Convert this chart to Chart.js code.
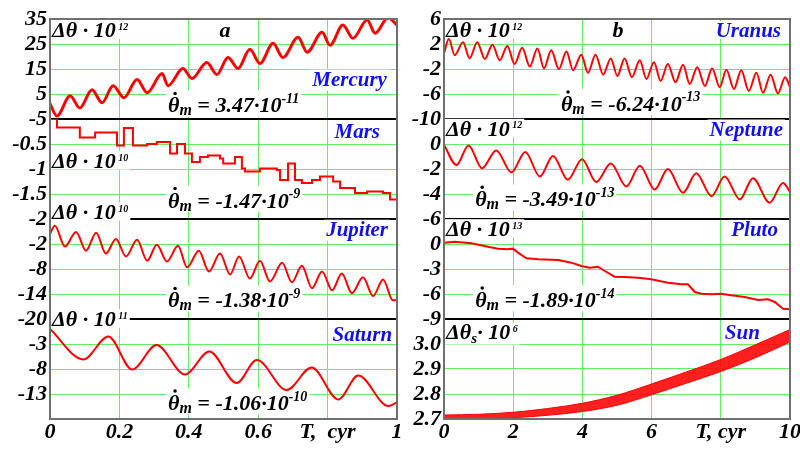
<!DOCTYPE html>
<html>
<head>
<meta charset="utf-8">
<script src="https://cdn.jsdelivr.net/npm/chart.js@4.4.1/dist/chart.umd.min.js"></script>
<style>
html, body { margin: 0; padding: 0; background: #fff; }
#wrap { position: relative; width: 800px; height: 449px; overflow: hidden; background: #fff; }
canvas { position: absolute; top: 0; }
#left { left: 0; }
#right { left: 400px; }
</style>
</head>
<body>
<div id="wrap">
<canvas id="left" width="420" height="449"></canvas>
<canvas id="right" width="400" height="449"></canvas>
</div>
<script>
// ---- data (T in centuries) ----
var mercuryT = [0, .020, .058, .086, .121, .150, .182, .213, .251, .280, .323, .340, .383, .409, .452, .481, .513, .542, .576, .605, .643, .671, .715, .741, .784, .807, .844, .873, .914, .937, .974, 1.0];
var mercuryV = [1.1, -3.8, 4.3, -0.6, 6.7, 1.5, 8.3, 3.5, 10.8, 5.5, 13.2, 8.3, 15.2, 11.2, 17.6, 12.8, 19.6, 15.2, 22.9, 17.2, 25.3, 19.6, 27.7, 21.7, 29.7, 24.5, 32.6, 27.3, 34.6, 29.3, 35.5, 32.6];

var marsT = [0, .020, .086, .130, .193, .213, .239, .280, .308, .346, .366, .389, .409, .432, .455, .490, .499, .533, .553, .562, .605, .654, .663, .686, .706, .726, .755, .778, .816, .836, .879, .914, .960, .980, 1.0];
var marsV = [0, -0.17, -0.37, -0.27, -0.53, -0.18, -0.53, -0.50, -0.46, -0.69, -0.50, -0.69, -0.86, -0.76, -0.73, -0.79, -0.89, -0.76, -0.99, -1.05, -0.99, -1.02, -1.22, -0.89, -1.22, -1.28, -1.22, -1.15, -1.25, -1.38, -1.48, -1.45, -1.48, -1.61, -1.67];

var jupiterT = [0, .014, .043, .075, .104, .133, .161, .190, .219, .251, .280, .308, .337, .369, .395, .429, .458, .490, .519, .545, .576, .605, .634, .669, .697, .726, .755, .784, .813, .841, .870, .902, .931, .960, .988, 1.0];
var jupiterV = [0.4, 2.4, -2.6, 0.9, -3.6, 0.7, -4.3, -0.8, -5.0, -1.0, -6.0, -2.2, -6.2, -2.4, -7.6, -3.6, -8.6, -4.3, -9.3, -5.0, -10.3, -6.0, -11.0, -6.5, -11.2, -7.2, -12.6, -8.6, -13.1, -9.1, -13.8, -10.0, -14.5, -10.5, -15.5, -15.5];

var saturnT = [0, .096, .168, .237, .307, .389, .459, .538, .596, .682, .754, .831, .888, .975, 1.0];
var saturnV = [0.0, -6.1, -1.5, -8.1, -3.2, -9.1, -4.5, -10.8, -6.2, -12.2, -7.7, -14.1, -9.3, -15.4, -14.7];

var uranusT = [0, .14, .31, .55, .74, .96, 1.18, 1.40, 1.61, 1.83, 2.04, 2.26, 2.48, 2.70, 2.89, 3.10, 3.32, 3.54, 3.73, 3.97, 4.16, 4.38, 4.60, 4.82, 5.01, 5.22, 5.43, 5.66, 5.85, 6.07, 6.26, 6.47, 6.69, 6.91, 7.10, 7.32, 7.54, 7.75, 7.97, 8.16, 8.38, 8.59, 8.81, 9.03, 9.22, 9.44, 9.65, 9.86, 10];
var uranusV = [0.5, 2.8, 0.2, 2.3, -0.3, 2.3, -0.4, 1.9, -0.6, 1.7, -1.2, 1.4, -1.6, 1.3, -1.9, 1.0, -2.0, 0.8, -2.2, 0.3, -2.6, 0.3, -2.9, -0.3, -3.1, -0.3, -3.3, -0.6, -3.6, -0.9, -3.9, -1.2, -4.1, -1.3, -4.4, -1.7, -4.7, -1.9, -4.9, -2.1, -5.2, -2.2, -5.5, -2.6, -5.8, -2.9, -5.9, -3.3, -4.9];

var neptuneT = [0, .36, .71, 1.10, 1.51, 1.95, 2.35, 2.77, 3.15, 3.58, 3.99, 4.40, 4.82, 5.27, 5.66, 6.09, 6.47, 6.91, 7.29, 7.73, 8.11, 8.55, 8.93, 9.41, 9.80, 10];
var neptuneV = [-0.06, -1.68, -0.12, -1.94, -0.51, -2.26, -0.64, -2.60, -0.96, -2.86, -1.21, -3.04, -1.55, -3.39, -1.74, -3.64, -2.00, -3.90, -2.34, -4.17, -2.60, -4.43, -2.73, -4.69, -3.12, -3.83];

var plutoT = [0, .31, .79, 1.27, 1.56, 1.85, 1.99, 2.14, 2.38, 2.72, 3.30, 3.68, 3.97, 4.21, 4.45, 4.65, 4.93, 5.22, 5.61, 5.99, 6.47, 6.86, 7.05, 7.25, 7.44, 7.73, 8.01, 8.30, 8.69, 9.08, 9.36, 9.56, 9.80, 10];
var plutoV = [0.16, 0.28, 0.08, -0.32, -0.56, -0.64, -0.56, -1.04, -1.72, -1.84, -1.92, -2.24, -2.64, -2.84, -2.72, -3.24, -3.92, -3.96, -4.04, -4.24, -4.64, -4.84, -4.84, -5.76, -5.96, -6.04, -5.96, -6.16, -6.36, -6.72, -6.64, -6.96, -7.76, -7.84];

var sunT = [0, 1, 2, 3, 4, 5, 6, 7, 8, 9, 10];
var sunLow = [2.700, 2.701, 2.705, 2.715, 2.730, 2.755, 2.797, 2.843, 2.890, 2.945, 3.008];
var sunHigh = [2.716, 2.719, 2.727, 2.742, 2.763, 2.795, 2.840, 2.888, 2.938, 2.997, 3.058];

// ---- styling ----
var serif = "'Liberation Serif', 'Times New Roman', serif";
var green = '#66ee66';
var red = '#ff0000';
var blue = '#1010f0';
var tickFont = { family: serif, size: 22, style: 'italic', weight: 'bold' };

Chart.defaults.font.family = serif;

function pts(t, v) {
    return t.map(function(x, i) { return { x: x, y: v[i] }; });
}

function fmt(v) {
    return String(Number(v.toFixed(2)));
}

function isEdge(c) {
    return c.index === 0 || c.index === c.scale.ticks.length - 1;
}

function yAxis(min, max, step, width, o) {
    o = o || {};
    return {
        type: 'linear', position: 'left', stack: 'col', stackWeight: 1,
        min: min, max: max, offset: false,
        border: { display: false },
        grid: {
            drawTicks: false,
            color: function(c) { return isEdge(c) ? '#000' : green; },
            lineWidth: function(c) { return isEdge(c) ? 2 : 1; }
        },
        ticks: {
            stepSize: step, autoSkip: false, padding: 3, color: '#000', font: tickFont,
            callback: function(v, i, t) {
                if (o.hideTop && i === t.length - 1) return '';
                if (o.hideBottom && i === 0) return '';
                return o.fixed ? v.toFixed(o.fixed) : fmt(v);
            }
        },
        afterFit: function(s) { s.width = width; s.paddingTop = 0; s.paddingBottom = 0; }
    };
}

function xAxis(max, step, unitAt, unitText) {
    return {
        type: 'linear', min: 0, max: max, offset: false,
        border: { display: false },
        grid: { drawTicks: false, color: green, lineWidth: 1 },
        ticks: {
            stepSize: step, autoSkip: false, maxRotation: 0, padding: 0, color: '#000', font: tickFont,
            callback: function(v) { return Math.abs(v - unitAt) < 1e-6 ? unitText : fmt(v); }
        },
        afterFit: function(s) { s.height = 30; s.paddingLeft = 0; s.paddingRight = 0; }
    };
}

// ---- text labels ----
function font(size) {
    return 'italic bold ' + size + 'px ' + serif;
}

function deltaRuns(exp, sub) {
    if (sub) {
        return [{ t: 'Δθ', size: 22 }, { t: sub, size: 15, dy: 4 }, { t: '· 10', size: 22 }, { t: ' ' + exp, size: 10, dy: -7.5 }];
    }
    return [{ t: 'Δθ · 10', size: 22 }, { t: ' ' + exp, size: 10, dy: -7.5 }];
}

function rateRuns(mant, exp) {
    return [{ t: 'θ', size: 22, dot: true }, { t: 'm', size: 16, dy: 3 }, { t: ' = ' + mant + '·10', size: 22 }, { t: exp, size: 14, dy: -9.5 }];
}

function nameRuns(name) {
    return [{ t: name, size: 21, color: blue }];
}

function drawRuns(ctx, runs, x, y, align) {
    var widths = [], w = 0, top = 0, bot = 0;
    runs.forEach(function(r) {
        ctx.font = font(r.size);
        var rw = ctx.measureText(r.t).width;
        widths.push(rw);
        w += rw;
        var dy = r.dy || 0;
        top = Math.min(top, dy - r.size * 0.72, r.dot ? -r.size * 0.95 : 0);
        bot = Math.max(bot, dy + r.size * (/[gjpqy]/.test(r.t) ? 0.22 : 0.05));
    });
    var x0 = align === 'right' ? x - w : (align === 'center' ? x - w / 2 : x);
    ctx.fillStyle = '#fff';
    ctx.fillRect(x0 - 2, y + top - 1, w + 4, bot - top + 1.5);
    var cx = x0;
    runs.forEach(function(r, i) {
        ctx.font = font(r.size);
        ctx.fillStyle = r.color || '#000';
        ctx.fillText(r.t, cx, y + (r.dy || 0));
        if (r.dot) {
            ctx.beginPath();
            ctx.arc(cx + widths[i] * 0.62, y - r.size * 0.86, r.size * 0.08, 0, Math.PI * 2);
            ctx.fill();
        }
        cx += widths[i];
    });
}

function notesPlugin(list) {
    return {
        id: 'notes',
        beforeDatasetsDraw: function(chart) {
            var ctx = chart.ctx;
            ctx.save();
            ctx.textBaseline = 'alphabetic';
            ctx.textAlign = 'left';
            list.forEach(function(n) {
                var px = chart.scales.x.getPixelForValue(n.x);
                var py = chart.scales[n.axis].getPixelForValue(n.v);
                drawRuns(ctx, n.runs, px, py, n.align);
            });
            ctx.restore();
        }
    };
}

var framePlugin = {
    id: 'frame',
    afterDraw: function(chart) {
        var a = chart.chartArea, ctx = chart.ctx;
        ctx.save();
        ctx.strokeStyle = '#707070';
        ctx.lineWidth = 2;
        ctx.strokeRect(a.left, a.top, a.right - a.left, a.bottom - a.top);
        ctx.restore();
    }
};

var leftNotes = [
    { axis: 'yMercury', x: 0.006, v: 27.7, align: 'left', runs: deltaRuns('12') },
    { axis: 'yMercury', x: 0.504, v: 27.7, align: 'center', runs: [{ t: 'a', size: 22 }] },
    { axis: 'yMercury', x: 0.971, v: 8.3, align: 'right', runs: nameRuns('Mercury') },
    { axis: 'yMercury', x: 0.34, v: -2.37, align: 'left', runs: rateRuns('3.47', '-11') },
    { axis: 'yMars', x: 0.951, v: -0.37, align: 'right', runs: nameRuns('Mars') },
    { axis: 'yMars', x: 0.006, v: -0.98, align: 'left', runs: deltaRuns('10') },
    { axis: 'yMars', x: 0.34, v: -1.77, align: 'left', runs: rateRuns('-1.47', '-9') },
    { axis: 'yJupiter', x: 0.006, v: 4.0, align: 'left', runs: deltaRuns('10') },
    { axis: 'yJupiter', x: 0.974, v: -0.04, align: 'right', runs: nameRuns('Jupiter') },
    { axis: 'yJupiter', x: 0.34, v: -17.2, align: 'left', runs: rateRuns('-1.38', '-9') },
    { axis: 'ySaturn', x: 0.006, v: 0.57, align: 'left', runs: deltaRuns('11') },
    { axis: 'ySaturn', x: 0.986, v: -2.49, align: 'right', runs: nameRuns('Saturn') },
    { axis: 'ySaturn', x: 0.34, v: -16.2, align: 'left', runs: rateRuns('-1.06', '-10') }
];

var rightNotes = [
    { axis: 'yUranus', x: 0.06, v: 3.09, align: 'left', runs: deltaRuns('12') },
    { axis: 'yUranus', x: 5.03, v: 3.09, align: 'center', runs: [{ t: 'b', size: 22 }] },
    { axis: 'yUranus', x: 9.74, v: 3.09, align: 'right', runs: nameRuns('Uranus') },
    { axis: 'yUranus', x: 3.38, v: -8.7, align: 'left', runs: rateRuns('-6.24', '-13') },
    { axis: 'yNeptune', x: 0.06, v: 0.67, align: 'left', runs: deltaRuns('12') },
    { axis: 'yNeptune', x: 9.80, v: 0.67, align: 'right', runs: nameRuns('Neptune') },
    { axis: 'yNeptune', x: 0.90, v: -4.98, align: 'left', runs: rateRuns('-3.49', '-13') },
    { axis: 'yPluto', x: 0.06, v: 0.96, align: 'left', runs: deltaRuns('13') },
    { axis: 'yPluto', x: 9.65, v: 0.96, align: 'right', runs: nameRuns('Pluto') },
    { axis: 'yPluto', x: 0.90, v: -7.56, align: 'left', runs: rateRuns('-1.89', '-14') },
    { axis: 'ySun', x: 0.06, v: 3.019, align: 'left', runs: deltaRuns('6', 's') },
    { axis: 'ySun', x: 9.13, v: 3.019, align: 'right', runs: nameRuns('Sun') }
];

var common = {
    responsive: false,
    animation: false,
    devicePixelRatio: 1,
    events: [],
    plugins: { legend: { display: false }, tooltip: { enabled: false } },
    elements: { point: { radius: 0 }, line: { borderColor: red, borderWidth: 2, fill: false } }
};

// stacked y axes are placed bottom-up, so the lowest panel is listed first
new Chart(document.getElementById('left'), {
    type: 'line',
    data: {
        datasets: [
            { data: pts(mercuryT, mercuryV), yAxisID: 'yMercury', borderColor: red, borderWidth: 3, cubicInterpolationMode: 'monotone' },
            { data: pts(marsT, marsV), yAxisID: 'yMars', borderColor: red, stepped: 'before' },
            { data: pts(jupiterT, jupiterV), yAxisID: 'yJupiter', borderColor: red, cubicInterpolationMode: 'monotone' },
            { data: pts(saturnT, saturnV), yAxisID: 'ySaturn', borderColor: red, cubicInterpolationMode: 'monotone' }
        ]
    },
    options: Object.assign({}, common, {
        layout: { padding: { top: 19, right: 23, bottom: 0, left: 0 } },
        scales: {
            x: xAxis(1, 0.2, 0.8, 'T,  cyr'),
            ySaturn: yAxis(-18, 2, 5, 50, { hideTop: true, hideBottom: true }),
            yJupiter: yAxis(-20, 4, 6, 50, { hideTop: true }),
            yMars: yAxis(-2, 0, 0.5, 50, { hideTop: true }),
            yMercury: yAxis(-5, 35, 10, 50)
        }
    }),
    plugins: [notesPlugin(leftNotes), framePlugin]
});

new Chart(document.getElementById('right'), {
    type: 'line',
    data: {
        datasets: [
            { data: pts(uranusT, uranusV), yAxisID: 'yUranus', borderColor: red, cubicInterpolationMode: 'monotone' },
            { data: pts(neptuneT, neptuneV), yAxisID: 'yNeptune', borderColor: red, cubicInterpolationMode: 'monotone' },
            { data: pts(plutoT, plutoV), yAxisID: 'yPluto', borderColor: red },
            { data: pts(sunT, sunLow), yAxisID: 'ySun', borderColor: red, borderWidth: 1, cubicInterpolationMode: 'monotone' },
            { data: pts(sunT, sunHigh), yAxisID: 'ySun', borderColor: red, borderWidth: 1, cubicInterpolationMode: 'monotone',
              fill: '-1', backgroundColor: 'rgba(255,0,0,0.88)' }
        ]
    },
    options: Object.assign({}, common, {
        layout: { padding: { top: 19, right: 10, bottom: 0, left: 0 } },
        scales: {
            x: xAxis(10, 2, 8, 'T, cyr'),
            ySun: yAxis(2.7, 3.1, 0.1, 44, { hideTop: true, fixed: 1 }),
            yPluto: yAxis(-9, 3, 3, 44, { hideTop: true }),
            yNeptune: yAxis(-6, 2, 2, 44, { hideTop: true }),
            yUranus: yAxis(-10, 6, 4, 44)
        }
    }),
    plugins: [notesPlugin(rightNotes), framePlugin]
});
</script>
</body>
</html>
